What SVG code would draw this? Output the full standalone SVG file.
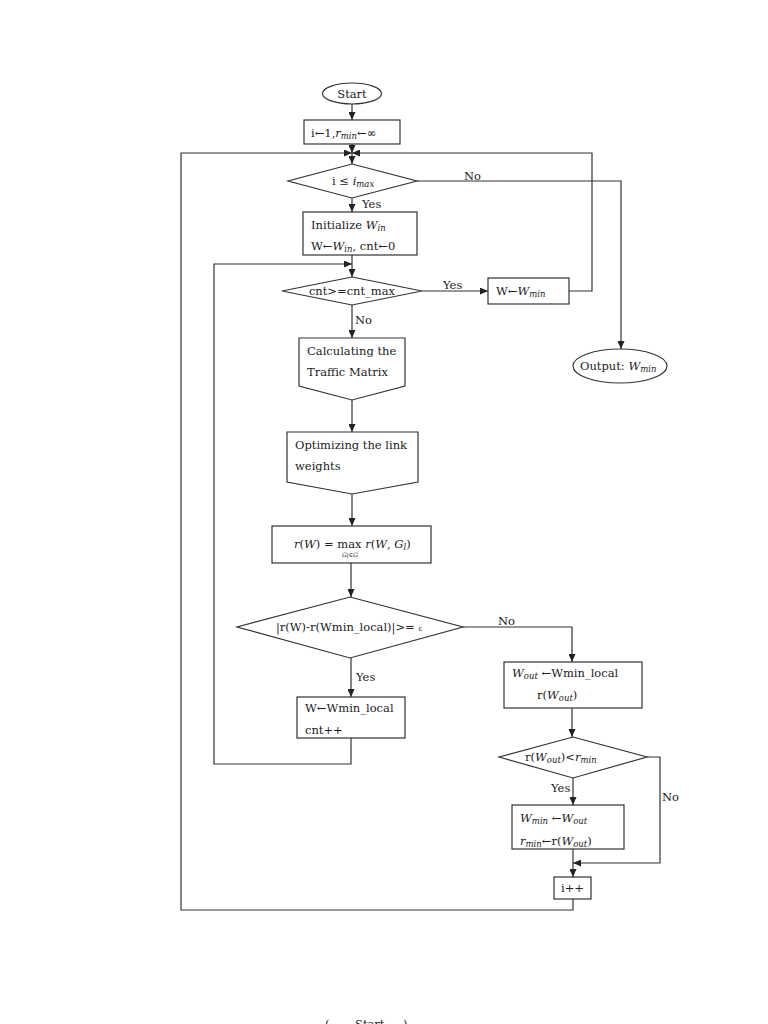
<svg xmlns="http://www.w3.org/2000/svg" width="768" height="1024" viewBox="0 0 768 1024">
<defs>
<marker id="ah" markerWidth="8" markerHeight="7" refX="8" refY="3.5" orient="auto" markerUnits="userSpaceOnUse">
<path d="M0,0 L8,3.5 L0,7 z" fill="#222"/>
</marker>
<style>
.s{fill:#fff;stroke:#333;stroke-width:1.2}
.c{fill:none;stroke:#333;stroke-width:1.2}
.a{marker-end:url(#ah)}
text{font-family:"DejaVu Serif","Liberation Serif",serif;font-size:11.5px;fill:#222}
.m{text-anchor:middle}
.i{font-style:italic}
.sb{font-size:8.5px;font-style:italic}
</style>
</defs>
<rect width="768" height="1024" fill="#fff"/>

<g id="connectors">
<line class="c a" x1="352" y1="104" x2="352" y2="120"/>
<line class="c a" x1="352" y1="144" x2="352" y2="153"/>
<polyline class="c a" points="573,899 573,910 181,910 181,153 352,153"/>
<polyline class="c a" points="569,291 592,291 592,153 352,153"/>
<line class="c a" x1="352" y1="153" x2="352" y2="164"/>
<polyline class="c a" points="417,181 621,181 621,349"/>
<line class="c a" x1="352" y1="198" x2="352" y2="212"/>
<line class="c a" x1="352" y1="255" x2="352" y2="277"/>
<polyline class="c a" points="351,738 351,764 214,764 214,264 352,264"/>
<line class="c a" x1="422" y1="291" x2="488" y2="291"/>
<line class="c a" x1="352" y1="305" x2="352" y2="338"/>
<line class="c a" x1="352" y1="400" x2="352" y2="432"/>
<line class="c a" x1="352" y1="494" x2="352" y2="526"/>
<line class="c a" x1="351" y1="563" x2="351" y2="597"/>
<polyline class="c a" points="463,627 572,627 572,662"/>
<line class="c a" x1="351" y1="658" x2="351" y2="697"/>
<line class="c a" x1="572" y1="708" x2="572" y2="737"/>
<line class="c a" x1="573" y1="778" x2="573" y2="805"/>
<polyline class="c a" points="647,757 660,757 660,863 573,863"/>
<line class="c a" x1="573" y1="849" x2="573" y2="877"/>
</g>

<g id="labels">
<text x="464" y="180">No</text>
<text x="362" y="208">Yes</text>
<text x="443" y="289">Yes</text>
<text x="355" y="324">No</text>
<text x="498" y="625">No</text>
<text x="356" y="681">Yes</text>
<text x="551" y="792">Yes</text>
<text x="662" y="801">No</text>
</g>

<g id="start">
<ellipse class="s" cx="352" cy="93.5" rx="29.5" ry="10.5"/>
<text class="m" x="352" y="97.5">Start</text>
</g>

<g id="init">
<rect class="s" x="304" y="120" width="96" height="24"/>
<text x="311" y="137">i←1,<tspan class="i">r</tspan><tspan class="sb" dy="2">min</tspan><tspan dy="-2">←∞</tspan></text>
</g>

<g id="cond-i">
<polygon class="s" points="352,164 417,181 352,198 288,181"/>
<text x="332" y="185">i ≤ <tspan class="i">i</tspan><tspan class="sb" dy="2">max</tspan></text>
</g>

<g id="initialize">
<rect class="s" x="303" y="212" width="114" height="43"/>
<text x="311" y="229">Initialize <tspan class="i">W</tspan><tspan class="sb" dy="2">in</tspan></text>
<text x="311" y="250">W←<tspan class="i">W</tspan><tspan class="sb" dy="2">in</tspan><tspan dy="-2">, cnt←0</tspan></text>
</g>

<g id="cond-cnt">
<polygon class="s" points="352,277 422,291 352,305 282,291"/>
<text class="m" x="352" y="295">cnt&gt;=cnt_max</text>
</g>

<g id="w-wmin">
<rect class="s" x="488" y="278" width="81" height="26"/>
<text x="496" y="295">W←<tspan class="i">W</tspan><tspan class="sb" dy="2">min</tspan></text>
</g>

<g id="output">
<ellipse class="s" cx="620" cy="366" rx="47" ry="17"/>
<text x="580" y="370">Output: <tspan class="i">W</tspan><tspan class="sb" dy="2">min</tspan></text>
</g>

<g id="traffic">
<polygon class="s" points="299,338 405,338 405,386 352,400 299,386"/>
<text x="307" y="355">Calculating  the</text>
<text x="307" y="376">Traffic Matrix</text>
</g>

<g id="optimize">
<polygon class="s" points="287,432 418,432 418,482 352,494 287,482"/>
<text x="295" y="449">Optimizing the link</text>
<text x="295" y="470">weights</text>
</g>

<g id="rw">
<rect class="s" x="272" y="526" width="159" height="37"/>
<text x="294" y="548"><tspan class="i">r</tspan>(<tspan class="i">W</tspan>) = max <tspan class="i">r</tspan>(<tspan class="i">W</tspan>, <tspan class="i">G</tspan><tspan class="sb" dy="2">l</tspan><tspan dy="-2">)</tspan></text>
<text class="m" x="350" y="557" style="font-size:6px;font-style:italic">G<tspan dy="1">l</tspan><tspan dy="-1">∈G</tspan></text>
</g>

<g id="cond-eps">
<polygon class="s" points="350,597 463,627 350,658 237,627"/>
<text class="m" x="349" y="631" style="font-size:11.5px">|r(W)-r(Wmin_local)|&gt;= <tspan style="font-size:7px">ε</tspan></text>
</g>

<g id="wout">
<rect class="s" x="504" y="662" width="138" height="46"/>
<text x="512" y="677"><tspan class="i">W</tspan><tspan class="sb" dy="2">out</tspan><tspan dy="-2"> ←Wmin_local</tspan></text>
<text x="537" y="699">r(<tspan class="i">W</tspan><tspan class="sb" dy="2">out</tspan><tspan dy="-2">)</tspan></text>
</g>

<g id="wlocal">
<rect class="s" x="297" y="697" width="108" height="41"/>
<text x="305" y="712">W←Wmin_local</text>
<text x="305" y="734">cnt++</text>
</g>

<g id="cond-r">
<polygon class="s" points="573,737 647,757 573,778 499,757"/>
<text x="525" y="761">r(<tspan class="i">W</tspan><tspan class="sb" dy="2">out</tspan><tspan dy="-2">)&lt;</tspan><tspan class="i">r</tspan><tspan class="sb" dy="2">min</tspan></text>
</g>

<g id="update">
<rect class="s" x="512" y="805" width="112" height="44"/>
<text x="520" y="822"><tspan class="i">W</tspan><tspan class="sb" dy="2">min</tspan><tspan dy="-2"> ←</tspan><tspan class="i">W</tspan><tspan class="sb" dy="2">out</tspan></text>
<text x="520" y="845"><tspan class="i">r</tspan><tspan class="sb" dy="2">min</tspan><tspan dy="-2">←r(</tspan><tspan class="i">W</tspan><tspan class="sb" dy="2">out</tspan><tspan dy="-2">)</tspan></text>
</g>

<g id="inc">
<rect class="s" x="554" y="877" width="37" height="22"/>
<text class="m" x="572.5" y="892">i++</text>
</g>

<g id="cut-start">
<text x="325" y="1028">(</text>
<text x="355" y="1028">Start</text>
<text x="403" y="1028">)</text>
</g>
</svg>
